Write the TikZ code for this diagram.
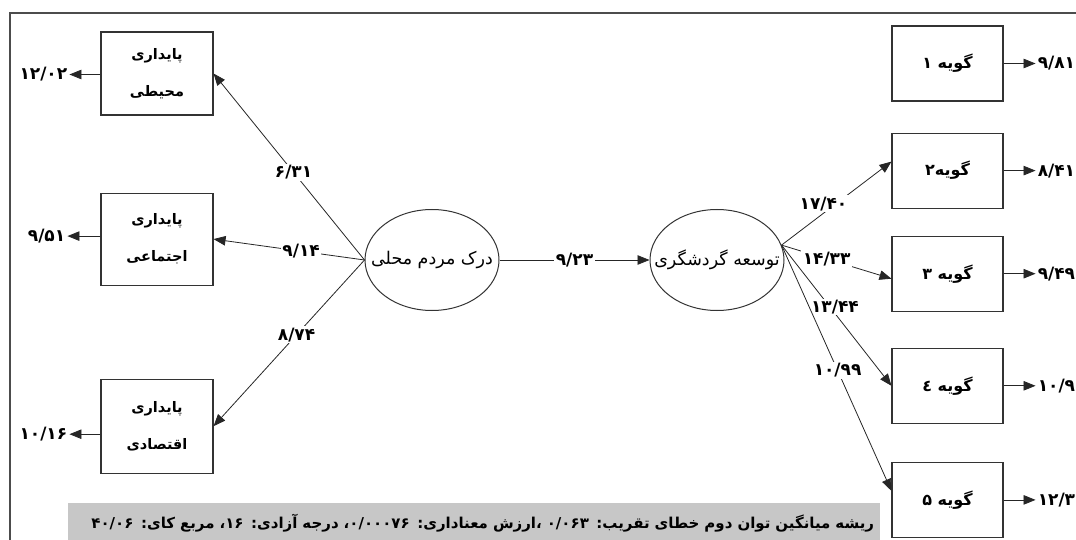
\documentclass[tikz,border=0pt]{standalone}
\usepackage{fontspec}
\newfontfamily\fa[Script=Arabic]{DejaVu Sans}
\TeXXeTstate=1
\usetikzlibrary{positioning,arrows.meta,shapes.geometric}

\begin{document}
\begin{tikzpicture}[x=1pt,y=-1pt,
    node distance=30pt and 40pt,
    leftbox/.style={draw=black!80, line width=1.1pt, rectangle, minimum width=112pt, align=center, font=\fa\bfseries\fontsize{14.5}{37}\selectfont},
    itembox/.style={draw=black!80, line width=1.1pt, rectangle, minimum width=111pt, minimum height=75pt, align=center, font=\fa\bfseries\fontsize{16}{19}\selectfont},
    latent/.style={draw=black!80, line width=1.0pt, ellipse, minimum width=134pt, minimum height=101pt, inner xsep=-20pt, inner ysep=0pt, font=\fa\fontsize{17.5}{21}\selectfont},
    coef/.style={font=\fa\bfseries\fontsize{17}{20}\selectfont, fill=white, inner sep=1.5pt},
    errlabel/.style={font=\fa\bfseries\fontsize{17}{20}\selectfont, inner xsep=2pt, inner ysep=1pt},
    patharrow/.style={draw=black!85, line width=0.8pt, -{Triangle[length=12pt,width=9.5pt]}},
    framerule/.style={draw=black!70, line width=2pt},
    fitbox/.style={fill=black!22, text width=800pt, minimum height=40pt, inner xsep=6pt, align=right, anchor=north west, font=\fa\bfseries\fontsize{15}{18}\selectfont}
]
  \clip (0,0) rectangle (1076,540);
  \draw [framerule] (1076,13) -- (10,13) -- (10,540);

  % Nodes
  \node (env) [leftbox, minimum height=83pt] at (157,73.5) {\beginR پایداری\endR\\\beginR محیطی\endR};
  \node (soc) [leftbox, minimum height=92pt, below=77pt of env] {\beginR پایداری\endR\\\beginR اجتماعی\endR};
  \node (eco) [leftbox, minimum height=94pt, below=93pt of soc] {\beginR پایداری\endR\\\beginR اقتصادی\endR};

  \node (perc) [latent] at (432,260) {\beginR درک مردم محلی\endR};
  \node (tour) [latent, right=150pt of perc] {\beginR توسعه گردشگری\endR};

  \node (g1) [itembox] at (947.5,63.5) {\beginR گویه ۱\endR};
  \node (g2) [itembox, below=31pt of g1] {\beginR گویه۲\endR};
  \node (g3) [itembox, below=27pt of g2] {\beginR گویه ۳\endR};
  \node (g4) [itembox, below=36pt of g3] {\beginR گویه ٤\endR};
  \node (g5) [itembox, below=38pt of g4] {\beginR گویه ۵\endR};

  \node (envres) [errlabel, left=31pt of env, yshift=-1pt] {۱۲/۰۲};
  \node (socres) [errlabel, left=33pt of soc, yshift=3pt] {۹/۵۱};
  \node (ecores) [errlabel, left=31pt of eco, yshift=-8pt] {۱۰/۱۶};

  \node (g1res) [errlabel, right=32pt of g1, anchor=west] {۹/۸۱};
  \node (g2res) [errlabel, right=32pt of g2, anchor=west] {۸/۴۱};
  \node (g3res) [errlabel, right=32pt of g3, anchor=west] {۹/۴۹};
  \node (g4res) [errlabel, right=32pt of g4, anchor=west] {۱۰/۹};
  \node (g5res) [errlabel, right=32pt of g5, anchor=west] {۱۲/۳};

  \node (fit) [fitbox] at (68,503) {\beginR ریشه میانگین توان دوم خطای تقریب: \beginL۰/۰۶۳\endL{} ،ارزش معناداری: \beginL۰/۰۰۰۷۶\endL، درجه آزادی: \beginL۱۶\endL، مربع کای: \beginL۴۰/۰۶\endL\endR};

  % Arrows
  \draw [patharrow] (perc.west) -- node [coef, pos=0.47] {۶/۳۱} (env.east);
  \draw [patharrow] (perc.west) -- node [coef, pos=0.42] {۹/۱۴} (soc.east);
  \draw [patharrow] (perc.west) -- node [coef, pos=0.45] {۸/۷۴} (eco.east);
  \draw [patharrow] (perc.east) -- node [coef, pos=0.5] {۹/۲۳} (tour.west);

  \draw [patharrow] (tour.13) -- node [coef, pos=0.4, xshift=-2pt, yshift=8pt] {۱۷/۴۰} ([yshift=9pt]g2.west);
  \draw [patharrow] (tour.13) -- node [coef, pos=0.41] {۱۴/۳۳} ([yshift=-5pt]g3.west);
  \draw [patharrow] (tour.13) -- node [coef, pos=0.44, xshift=5pt] {۱۳/۴۴} (g4.west);
  \draw [patharrow] (tour.13) -- node [coef, pos=0.51] {۱۰/۹۹} ([yshift=9pt]g5.west);

  \draw [patharrow] (env.west |- envres) -- (envres.east);
  \draw [patharrow] (soc.west |- socres) -- (socres.east);
  \draw [patharrow] (eco.west |- ecores) -- (ecores.east);
  \draw [patharrow] (g1.east) -- (g1res.west);
  \draw [patharrow] (g2.east) -- (g2res.west);
  \draw [patharrow] (g3.east) -- (g3res.west);
  \draw [patharrow] (g4.east) -- (g4res.west);
  \draw [patharrow] (g5.east) -- (g5res.west);
\end{tikzpicture}
\end{document}
